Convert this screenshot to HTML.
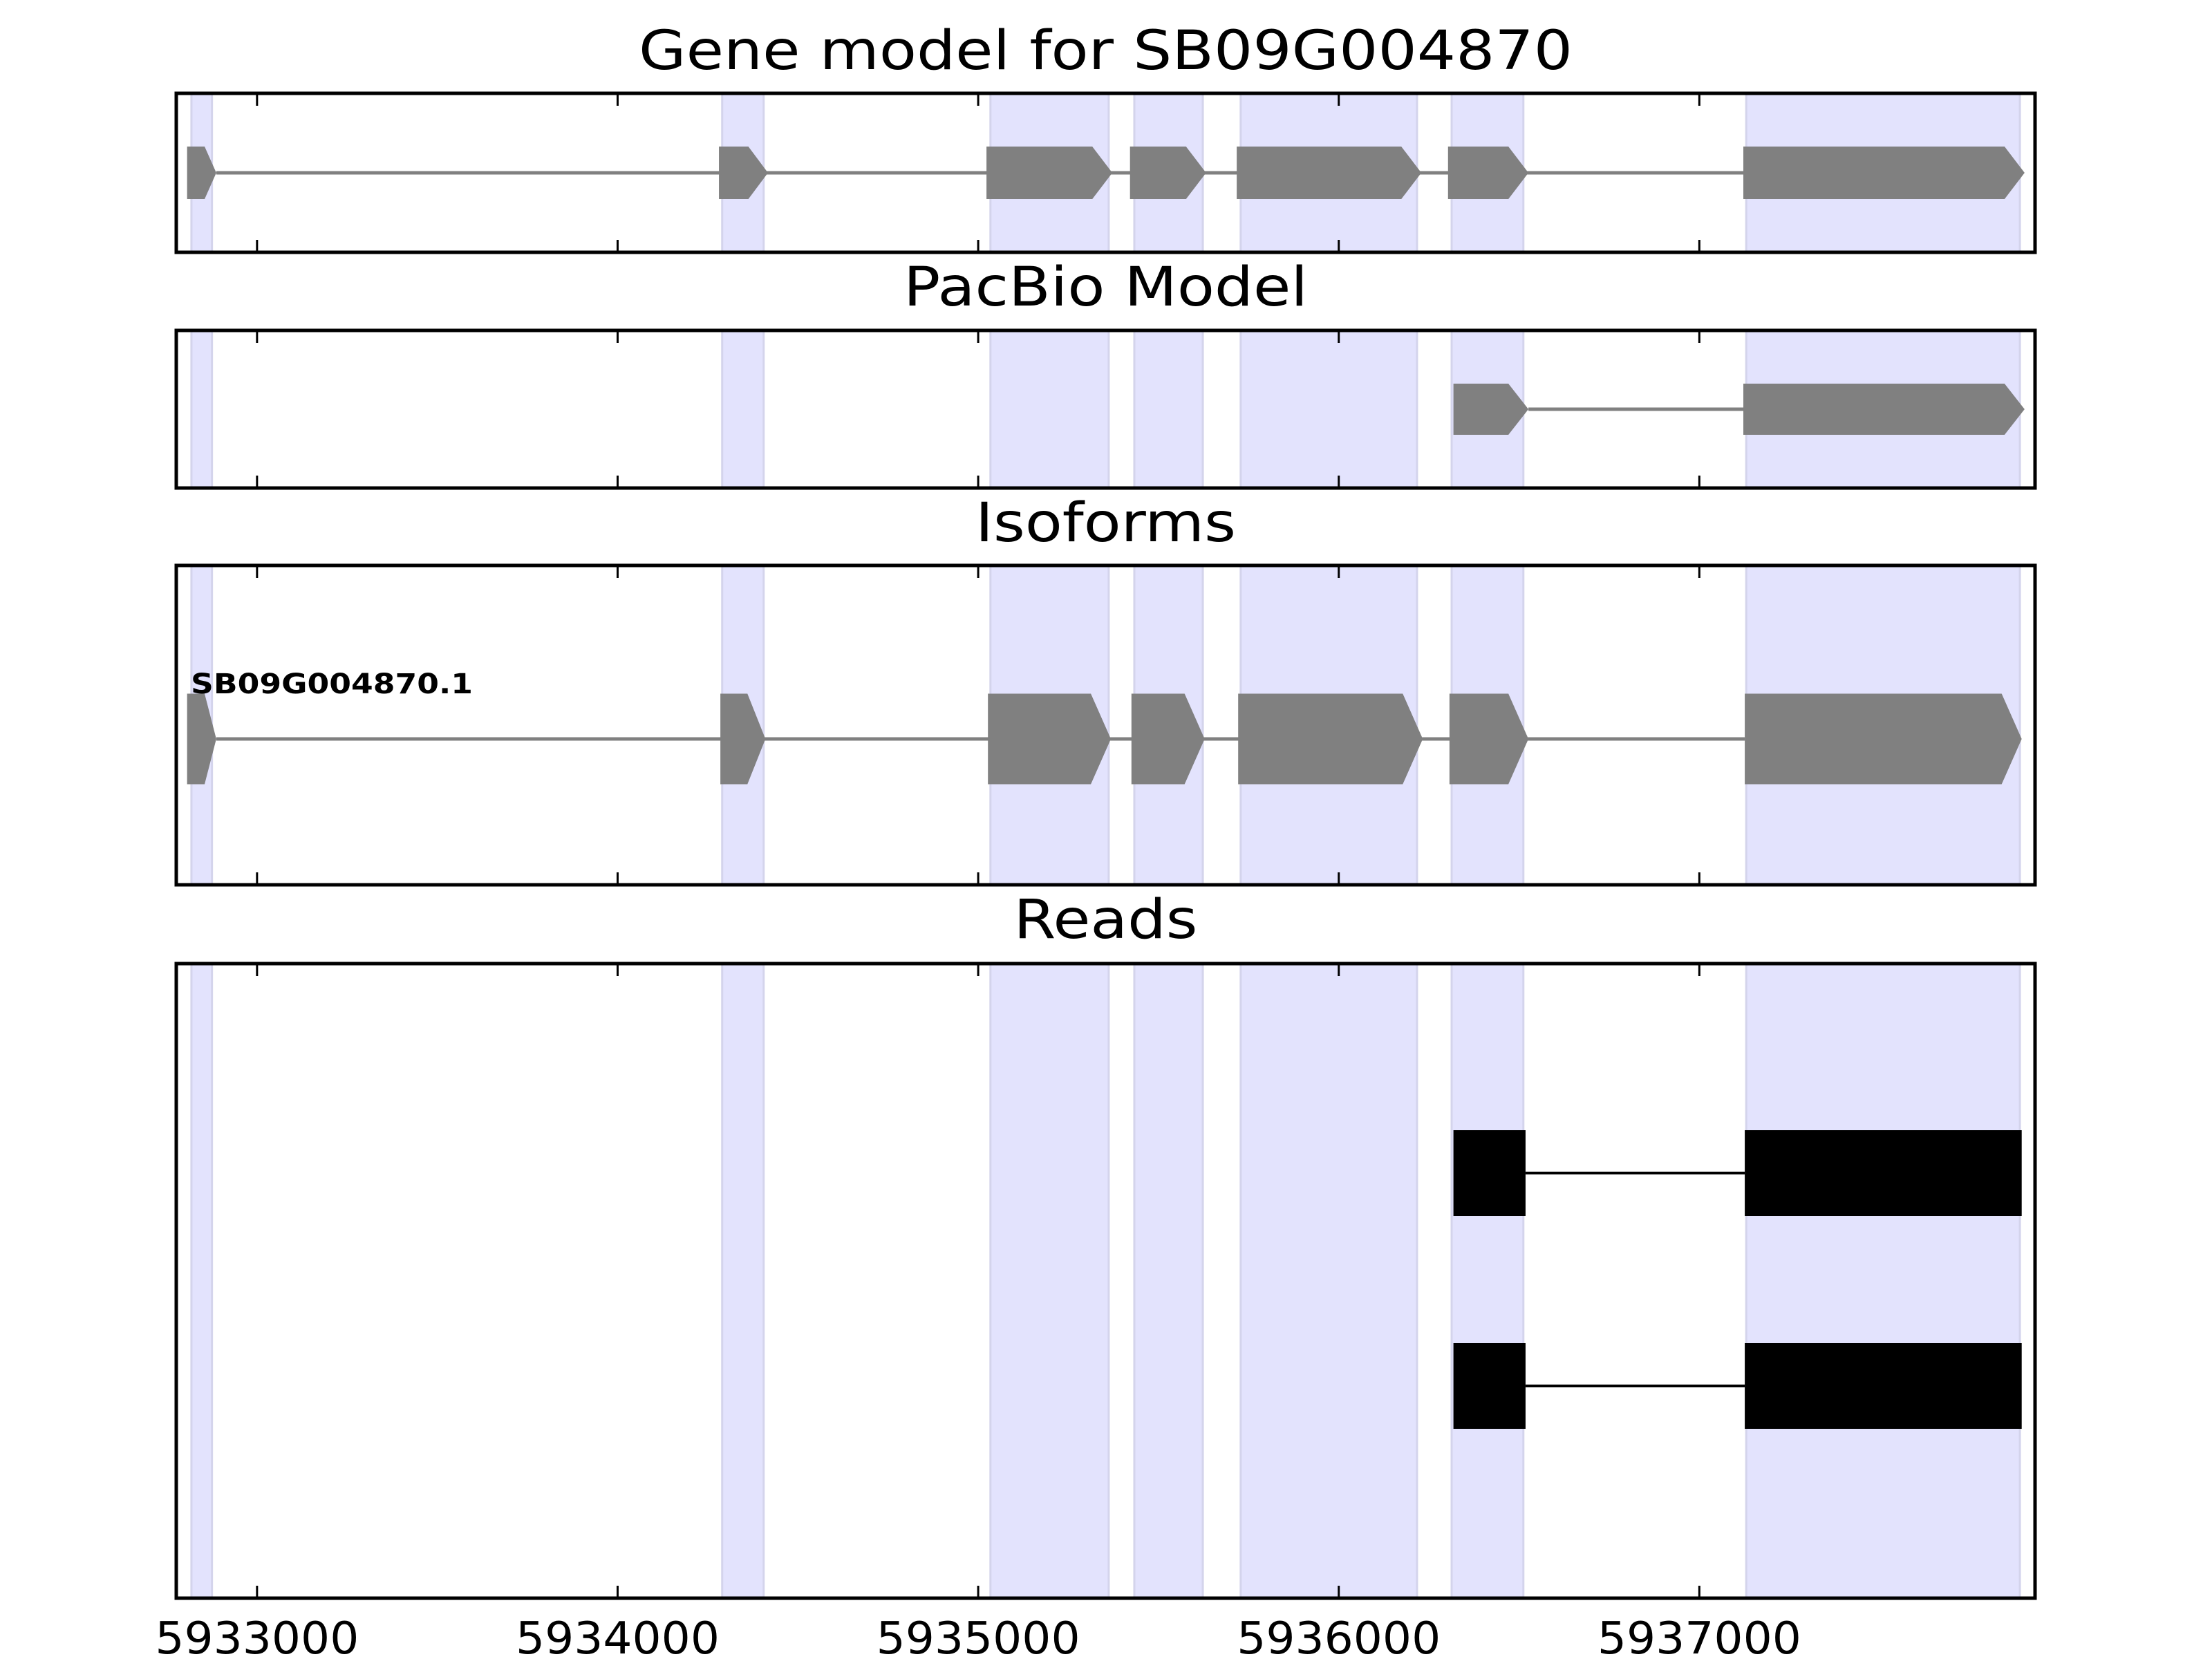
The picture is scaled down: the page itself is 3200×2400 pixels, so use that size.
<!DOCTYPE html>
<html><head><meta charset="utf-8"><style>html,body{margin:0;padding:0;background:#fff}svg{display:block}</style></head>
<body>
<svg id="c" xmlns="http://www.w3.org/2000/svg" width="3200" height="2400" viewBox="0 0 3200 2400"></svg>
<script>
const shadedStarts=[5932818,5934290,5935034,5935433,5935728,5936313,5937130];
const shadedEnds=[5932875,5934405,5935362,5935623,5936217,5936512,5937889];
const geneStarts=[5932806,5934281,5935023,5935421,5935717,5936303,5937122];
const geneEnds=[5932887,5934417,5935372,5935632,5936229,5936526,5937902];
const pacbioStarts=[5936318,5937122];
const pacbioEnds=[5936526,5937902];
const isoStarts=[5932806,5934285,5935027,5935425,5935721,5936307,5937126];
const isoEnds=[5932887,5934410,5935368,5935628,5936233,5936526,5937894];
const readStartsA=[5936318,5937126];
const readEndsA=[5936518,5937894];
const readStartsB=[5936318,5937126];
const readEndsB=[5936518,5937894];
const tickValues=[5933000,5934000,5935000,5936000,5937000];
const tickLabels=["5933000","5934000","5935000","5936000","5937000"];
const isoformName="SB09G004870.1";

const X0=255,X1=2944,V0=5932776,V1=5937931;
function xs(v){return X0+(v-V0)/(V1-V0)*(X1-X0);}
const svg=document.getElementById('c');
const NS='http://www.w3.org/2000/svg';
function el(t,a,p){const e=document.createElementNS(NS,t);for(const k in a)e.setAttribute(k,a[k]);(p||svg).appendChild(e);return e;}

const panels=[
 {top:135,bot:365,title:"Gene model for SB09G004870",ty:100,tw:1351,name:'gene-model-panel'},
 {top:478,bot:706,title:"PacBio Model",ty:442,tw:585,name:'pacbio-panel'},
 {top:818,bot:1280,title:"Isoforms",ty:783,tw:377,name:'isoforms-panel'},
 {top:1394,bot:2312,title:"Reads",ty:1357,tw:266,name:'reads-panel'}
];

function title(p){
  const t=el('text',{x:(X0+X1)/2,y:p.ty,'text-anchor':'middle','font-family':'DejaVu Sans, Liberation Sans, sans-serif','font-size':78,textLength:p.tw,lengthAdjust:'spacingAndGlyphs',fill:'#000'});
  t.textContent=p.title;
  
  
}

function gene(g,starts,ends,cy,h,color){
  const grp=el('g',{},g);
  
  
  const ln=el('line',{x1:xs(ends[0]),x2:xs(starts[starts.length-1]),y1:cy,y2:cy,stroke:color,'stroke-width':5},grp);
  
  
  for(let i=0;i<starts.length;i++){
    const a=xs(starts[i]),b=xs(ends[i]);
    const head=Math.min(29,(b-a)*0.4);
    const p=el('polygon',{points:`${a},${cy-h/2} ${b-head},${cy-h/2} ${b},${cy} ${b-head},${cy+h/2} ${a},${cy+h/2}`,fill:color},grp);
    
    
  }
}
function read(g,starts,ends,cy,h){
  const grp=el('g',{},g);
  
  
  const ln=el('line',{x1:xs(ends[0]),x2:xs(starts[starts.length-1]),y1:cy,y2:cy,stroke:'#000','stroke-width':4},grp);
  
  
  for(let i=0;i<starts.length;i++){
    const r=el('rect',{x:xs(starts[i]),y:cy-h/2,width:xs(ends[i])-xs(starts[i]),height:h,fill:'#000'},grp);
    
    
  }
}

panels.forEach((p,pi)=>{
  title(p);
  const g=el('g',{});
  
  
  for(let i=0;i<shadedStarts.length;i++){
    const r=el('rect',{x:xs(shadedStarts[i]),y:p.top,width:xs(shadedEnds[i])-xs(shadedStarts[i]),height:p.bot-p.top,fill:'#e3e3fd',stroke:'#d4d4ec','stroke-width':3},g);
    
    
  }
  if(pi===0) gene(g,geneStarts,geneEnds,250,76,'#808080');
  if(pi===1) gene(g,pacbioStarts,pacbioEnds,592,74,'#808080');
  if(pi===2){
    gene(g,isoStarts,isoEnds,1069,131,'#808080');
    const t=el('text',{x:276,y:1003,'font-family':'DejaVu Sans, Liberation Sans, sans-serif','font-size':40,'font-weight':'bold',textLength:408,lengthAdjust:'spacingAndGlyphs',fill:'#000'},g);
    t.textContent=isoformName;
    
    
  }
  if(pi===3){
    read(g,readStartsA,readEndsA,1697,124);
    read(g,readStartsB,readEndsB,2005,124);
  }
  tickValues.forEach(v=>{
    const x=xs(v);
    const t1=el('line',{x1:x,x2:x,y1:p.top,y2:p.top+18,stroke:'#000','stroke-width':3},g);
    
    
    const t2=el('line',{x1:x,x2:x,y1:p.bot,y2:p.bot-18,stroke:'#000','stroke-width':3},g);
    
    
  });
  const fr=el('rect',{x:X0,y:p.top,width:X1-X0,height:p.bot-p.top,fill:'none',stroke:'#000','stroke-width':5},g);
  
  
});

tickValues.forEach((v,i)=>{
  const t=el('text',{x:xs(v),y:2392,'text-anchor':'middle','font-family':'DejaVu Sans, Liberation Sans, sans-serif','font-size':64,textLength:295,lengthAdjust:'spacingAndGlyphs',fill:'#000'});
  t.textContent=tickLabels[i];
  
  
});
</script>
</body></html>
